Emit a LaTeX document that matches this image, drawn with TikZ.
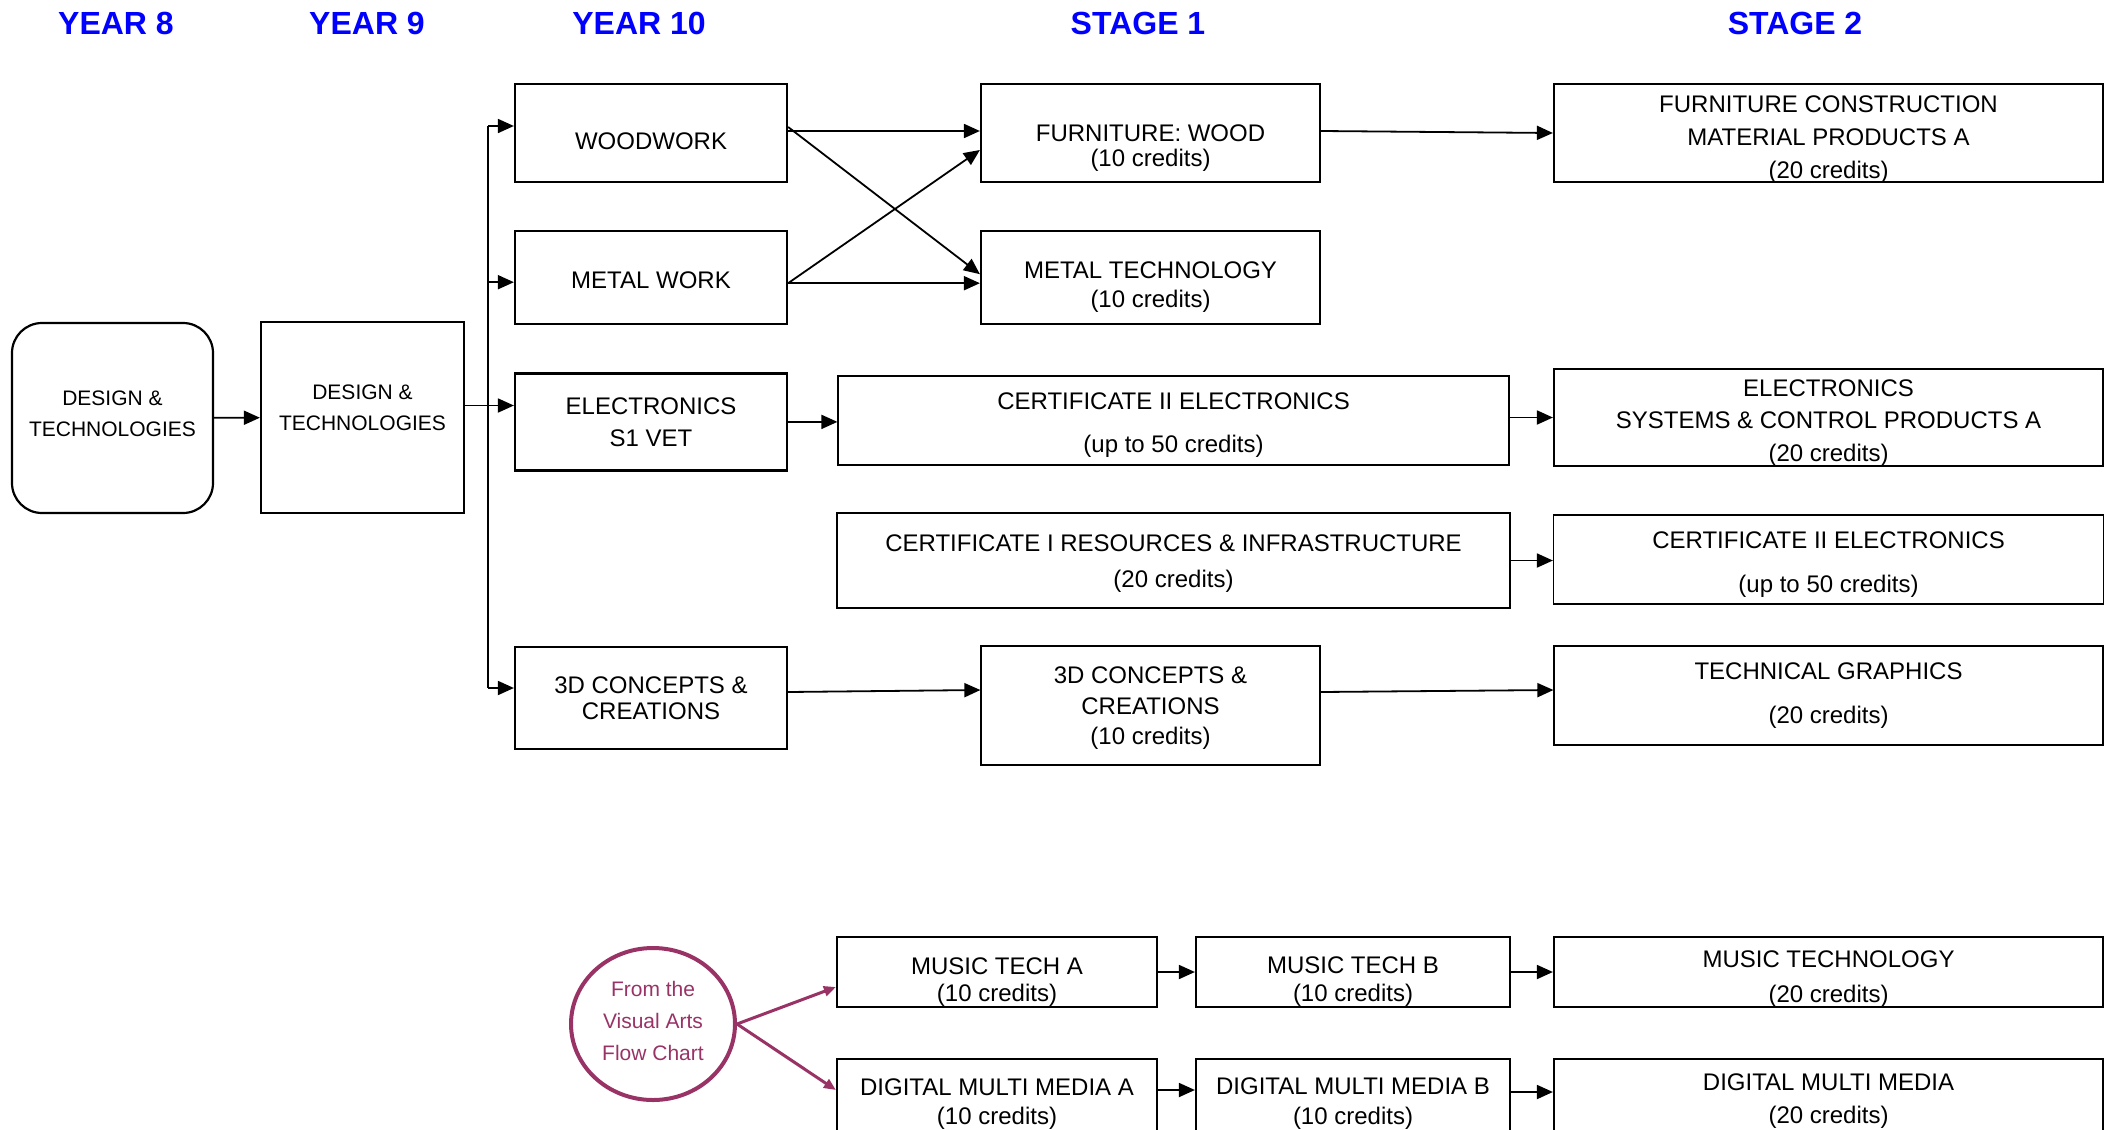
\documentclass[tikz,border=0pt]{standalone}
\usepackage{fontspec}
\setmainfont{Liberation Sans}
\usepackage{tikz}
\usetikzlibrary{arrows.meta, positioning, calc, shapes.geometric}
\definecolor{HeadBlue}{HTML}{0000FF}
\definecolor{ArtsPlum}{HTML}{993366}

\begin{document}
\begin{tikzpicture}[
  x=0.5pt, y=-0.5pt,
  head/.style={text=HeadBlue, font=\fontsize{16}{19}\selectfont\bfseries, inner sep=0pt},
  block/.style={rectangle, draw, line width=1.1pt, inner sep=0pt},
  thinblock/.style={block, line width=0.6pt},
  txt/.style={align=center, inner sep=0pt, font=\fontsize{12}{14.4}\selectfont},
  dttxt/.style={txt, font=\fontsize{10.5}{12.6}\selectfont},
  arts/.style={ellipse, draw=ArtsPlum, line width=2pt, minimum width=82pt, minimum height=76pt, inner sep=0pt},
  artstxt/.style={txt, text=ArtsPlum, font=\fontsize{10.5}{12.6}\selectfont},
  link/.style={line width=0.9pt},
  artslink/.style={draw=ArtsPlum, line width=1.5pt, -{Triangle[length=6pt,width=5pt]}},
  >={Triangle[length=8pt,width=7pt]}, node distance=23.5pt
]
  \clip (0,0) rectangle (2112,1129);

  \node[head] (y8) at (116,23) {YEAR 8};
  \node[head] (y9) at (367,23) {YEAR 9};
  \node[head] (y10) at (639,23) {YEAR 10};
  \node[head] (st1) at (1138,23) {STAGE 1};
  \node[head] (st2) at (1795,23) {STAGE 2};

  \node[block, rounded corners=15pt, minimum width=100.5pt, minimum height=95pt] (dt8) at (112.5,418) {};
  \node[dttxt] (dt8-t) at ([yshift=2pt]dt8) {DESIGN \&\\[3pt]TECHNOLOGIES};
  \node[block, minimum width=101.5pt, minimum height=95.5pt] (dt9) at (362.5,417.5) {};
  \node[dttxt] (dt9-t) at ([yshift=4.7pt]dt9) {DESIGN \&\\[3pt]TECHNOLOGIES};

  \node[block, minimum width=136pt, minimum height=49pt] (wood) at (651,133) {};
  \node[txt] (wood-t) at ([yshift=-4pt]wood) {WOODWORK};
  \node[block, minimum width=136pt, minimum height=46.5pt, below=of wood] (metal) {};
  \node[txt] (metal-t) at ([yshift=-1.3pt]metal) {METAL WORK};
  \node[block, minimum width=136pt, minimum height=48.5pt, below=of metal] (elec) {};
  \node[txt] (elec-t) at (elec) {ELECTRONICS\\[1.5pt]S1 VET};
  \node[block, minimum width=136pt, minimum height=51pt] (c3d) at (651,698) {};
  \node[txt] (c3d-t) at (c3d) {3D CONCEPTS \&\\[-1.5pt]CREATIONS};

  \node[block, minimum width=169.5pt, minimum height=49pt] (furn) at (1150.5,133) {};
  \node[txt] (furn-t) at ([yshift=-7.7pt]furn) {FURNITURE: WOOD\\[-1.7pt](10 credits)};
  \node[block, minimum width=169.5pt, minimum height=46.5pt, below=of furn] (mtech) {};
  \node[txt] (mtech-t) at ([yshift=-4.7pt]mtech) {METAL TECHNOLOGY\\[-0.2pt](10 credits)};
  \node[thinblock, minimum width=335.5pt, minimum height=44.5pt] (cert2) at (1173.5,420.5) {};
  \node[txt] (cert2-t) at ([yshift=-2.4pt]cert2) {CERTIFICATE II ELECTRONICS\\[7.4pt](up to 50 credits)};
  \node[block, minimum width=336.5pt, minimum height=47.5pt] (cert1) at (1173.5,560.5) {};
  \node[txt] (cert1-t) at ([yshift=-1.7pt]cert1) {CERTIFICATE I RESOURCES \& INFRASTRUCTURE\\[3.5pt](20 credits)};
  \node[thinblock, minimum width=169.5pt, minimum height=59.5pt] (s3d) at (1150.5,705.5) {};
  \node[txt] (s3d-t) at ([yshift=-1.3pt]s3d) {3D CONCEPTS \&\\[1pt]CREATIONS\\[1pt](10 credits)};

  \node[block, minimum width=274.5pt, minimum height=49pt] (fcon) at (1828.5,133) {};
  \node[txt] (fcon-t) at ([yshift=-3.4pt]fcon) {FURNITURE CONSTRUCTION\\[2pt]MATERIAL PRODUCTS A\\[2pt](20 credits)};
  \node[block, minimum width=274.5pt, minimum height=48.5pt] (esys) at (1828.5,417.5) {};
  \node[txt] (esys-t) at ([yshift=-2.7pt]esys) {ELECTRONICS\\[1.7pt]SYSTEMS \& CONTROL PRODUCTS A\\[1.7pt](20 credits)};
  \node[thinblock, minimum width=275pt, minimum height=44.5pt] (cert2b) at (1828.5,559.5) {};
  \node[txt] (cert2b-t) at ([yshift=-2.7pt]cert2b) {CERTIFICATE II ELECTRONICS\\[7.5pt](up to 50 credits)};
  \node[thinblock, minimum width=274.5pt, minimum height=49.5pt] (tgraph) at (1828.5,695.5) {};
  \node[txt] (tgraph-t) at (tgraph) {TECHNICAL GRAPHICS\\[7.5pt](20 credits)};

  \node[arts] (vis) at (653,1024) {};
  \node[artstxt] (vis-t) at ([yshift=1.7pt]vis) {From the\\[3.4pt]Visual Arts\\[3.4pt]Flow Chart};
  \node[block, minimum width=160pt, minimum height=35pt] (mta) at (997,972) {};
  \node[txt] (mta-t) at ([yshift=-5pt]mta) {MUSIC TECH A\\[-0.7pt](10 credits)};
  \node[block, minimum width=157pt, minimum height=35pt] (mtb) at (1353,972) {};
  \node[txt] (mtb-t) at ([yshift=-4.7pt]mtb) {MUSIC TECH B\\[-0.2pt](10 credits)};
  \node[block, minimum width=274.5pt, minimum height=35pt] (mtec) at (1828.5,972) {};
  \node[txt] (mtec-t) at ([yshift=-3.4pt]mtec) {MUSIC TECHNOLOGY\\[3pt](20 credits)};
  \node[block, minimum width=160pt, minimum height=37pt] (dmma) at (997,1096) {};
  \node[txt] (dmma-t) at ([yshift=-4pt]dmma) {DIGITAL MULTI MEDIA A\\(10 credits)};
  \node[block, minimum width=157pt, minimum height=37pt] (dmmb) at (1353,1096) {};
  \node[txt] (dmmb-t) at ([yshift=-3.7pt]dmmb) {DIGITAL MULTI MEDIA B\\[0.7pt](10 credits)};
  \node[block, minimum width=274.5pt, minimum height=37pt] (dmm) at (1828.5,1096) {};
  \node[txt] (dmm-t) at ([yshift=-2.4pt]dmm) {DIGITAL MULTI MEDIA\\[2.3pt](20 credits)};

  \draw[->, link] (dt8) -- (dt9);
  \draw[->, link] ([yshift=6pt]dt9.east) -- ([yshift=6pt]dt9.east -| elec.west);
  \coordinate (bus) at (488,0);
  \foreach \n/\s in {wood/3.5, metal/-2.25, c3d/5} {
    \coordinate (\n-in) at ([yshift=\s pt]\n.west);
    \draw[->, link] (bus |- \n-in) -- (\n-in);
  }
  \draw[link] (bus |- wood-in) -- (bus |- c3d-in);

  \draw[->, link] ([yshift=1pt]wood.east) -- ([yshift=1pt]furn.west);
  \draw[->, link] ([yshift=3pt]wood.east) -- ([yshift=1.75pt]mtech.west);
  \draw[->, link] ([yshift=-2.75pt]metal.east) -- ([yshift=-8.5pt]furn.west);
  \draw[->, link] ([yshift=-2.75pt]metal.east) -- ([yshift=-2.75pt]mtech.west);
  \draw[->, link] (elec.east) -- (elec.east -| cert2.west);
  \draw[->, link] ([yshift=3pt]c3d.east) -- ([yshift=7.75pt]s3d.west);

  \draw[->, link] ([yshift=1pt]furn.east) -- (fcon.west);
  \draw[->, link] (cert2.east |- esys) -- (esys.west);
  \draw[->, link] (cert1) -- (cert1 -| cert2b.west);
  \draw[->, link] ([yshift=6.75pt]s3d.east) -- ([yshift=2.75pt]tgraph.west);

  \draw[artslink] (vis.east) -- ([yshift=-7.5pt]mta.west);
  \draw[artslink] (vis.east) -- ([yshift=3pt]dmma.west);
  \draw[->, link] (mta) -- (mtb);
  \draw[->, link] (mtb) -- (mtec);
  \draw[->, link] ([yshift=3pt]dmma.east) -- ([yshift=3pt]dmmb.west);
  \draw[->, link] ([yshift=2pt]dmmb.east) -- ([yshift=2pt]dmm.west);
\end{tikzpicture}
\end{document}
